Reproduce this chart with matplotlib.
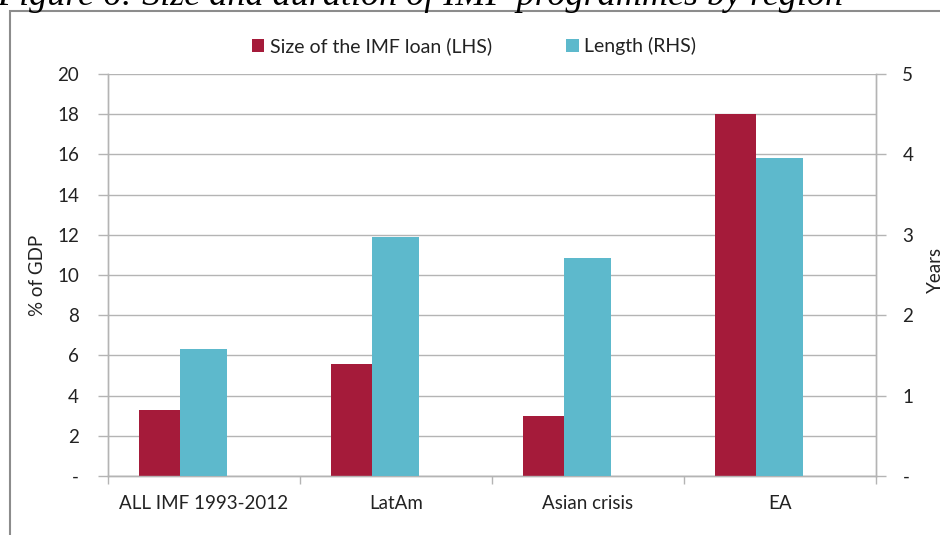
import numpy as np
import matplotlib.pyplot as plt
from matplotlib.patches import Rectangle

# --- data ---
regions = ["ALL IMF 1993-2012", "LatAm", "Asian crisis", "EA"]
loan_size = [3.3, 5.55, 2.97, 18.0]      # % of GDP (LHS)
length_years = [1.58, 2.97, 2.71, 3.95]  # years (RHS)
left_ticks = [0, 2, 4, 6, 8, 10, 12, 14, 16, 18, 20]
left_labels = ["-"] + [str(t) for t in left_ticks[1:]]
right_ticks = [0, 1, 2, 3, 4, 5]
right_labels = ["-"] + [str(t) for t in right_ticks[1:]]

red = "#A51B3A"
cyan = "#5DB9CC"
grid_col = "#B4B4B4"
txt = "#222222"

plt.rcParams['font.family'] = ['Lato', 'DejaVu Sans']

fig = plt.figure(figsize=(9.4, 5.35), dpi=100)
ax = fig.add_axes([108 / 940, 1 - 476 / 535, 768 / 940, 402 / 535])
ax2 = ax.twinx()

x = np.arange(len(regions))
ax.bar(x - 0.339, loan_size, width=0.213, align='edge', color=red,
       label="Size of the IMF loan (LHS)", zorder=3)
ax2.bar(x - 0.125, length_years, width=0.245, align='edge', color=cyan,
        label="Length (RHS)", zorder=3)

ax.set_xlim(-0.5, len(regions) - 0.5)
ax.set_ylim(0, 20)
ax2.set_ylim(0, 5)

ax.set_yticks(left_ticks)
ax.set_yticklabels(left_labels)
ax2.set_yticks(right_ticks)
ax2.set_yticklabels(right_labels)
ax.set_xticks(x)
ax.set_xticklabels(regions)
ax.set_xticks(np.arange(-0.5, len(regions)), minor=True)

ax.tick_params(axis='x', which='major', length=0, pad=14, labelsize=13.5, labelcolor=txt)
ax.tick_params(axis='x', which='minor', length=6, width=1, color=grid_col, direction='out')
ax.tick_params(axis='y', length=7, width=1, color=grid_col, pad=14, labelsize=13.5, labelcolor=txt)
ax2.tick_params(axis='y', length=7, width=1, color=grid_col, pad=12, labelsize=13.5, labelcolor=txt)

ax.yaxis.grid(True, color=grid_col, lw=1)
ax.set_axisbelow(True)
for a in (ax, ax2):
    for s in a.spines.values():
        s.set_color(grid_col)
        s.set_linewidth(1)
    a.spines['top'].set_visible(False)

ax.set_ylabel("% of GDP", fontsize=13.5, color=txt, labelpad=8)
fig.text(927 / 940, 1 - 270 / 535, "Years", rotation=90, fontsize=13.5,
         color=txt, ha='left', va='center')

# legend above plot
h1, l1 = ax.get_legend_handles_labels()
h2, l2 = ax2.get_legend_handles_labels()
fig.legend(h1 + h2, l1 + l2, loc='center', bbox_to_anchor=(474 / 940, 1 - 46 / 535),
           ncol=2, frameon=False, fontsize=14, handlelength=0.65, handleheight=0.65,
           handletextpad=0.3, columnspacing=3.8, labelcolor=txt)

# outer frame and cut-off caption
fig.patches.append(Rectangle((10 / 940, -0.1), 1.2, 1 - 11 / 535 + 0.1,
                             transform=fig.transFigure, fill=False,
                             edgecolor="#8C8C8C", lw=1.5))
fig.text(-0.003, 1 - 5 / 535, "Figure 6: Size and duration of IMF programmes by region",
         family='Liberation Serif', style='italic', fontsize=26, ha='left',
         va='baseline', color='black')

fig.savefig("out.png", dpi=100)
